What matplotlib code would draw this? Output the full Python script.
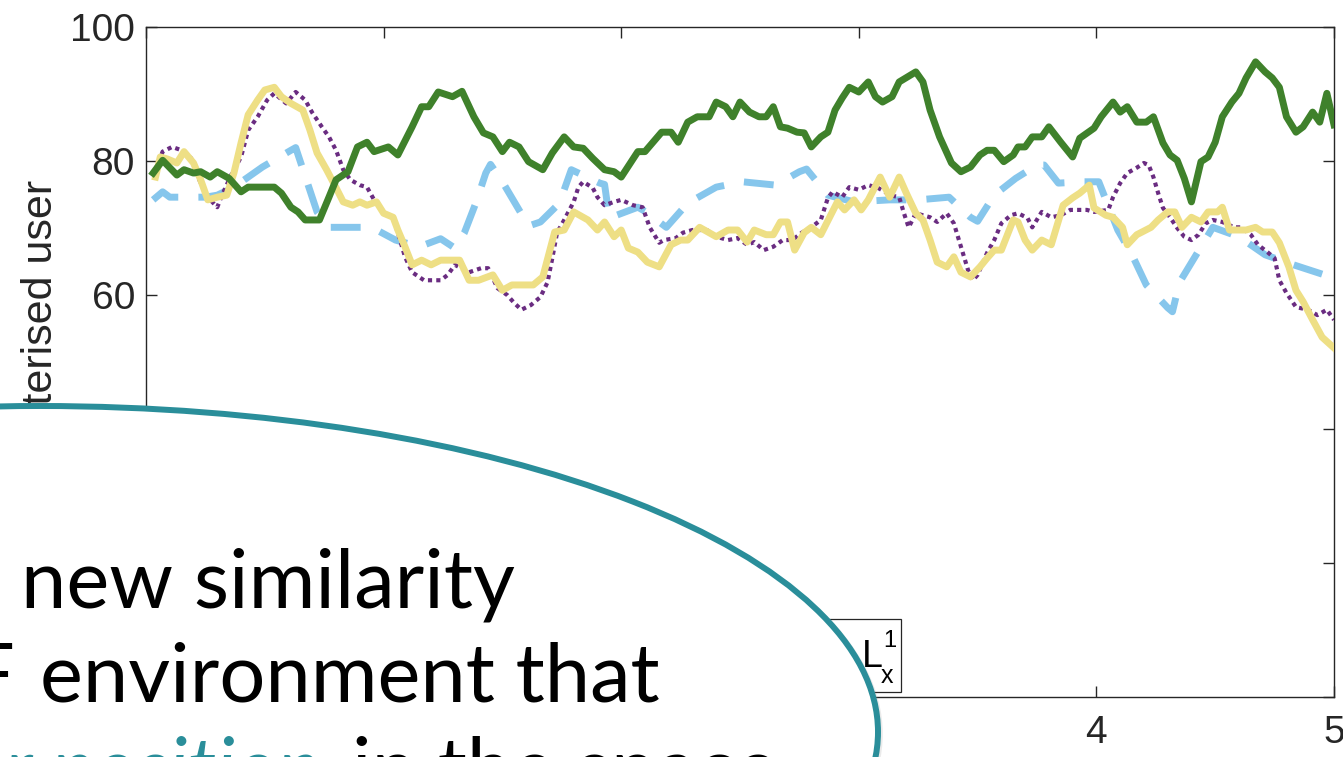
import matplotlib
matplotlib.use("Agg")
import matplotlib.pyplot as plt
from matplotlib.patches import Ellipse, Rectangle

plt.rcParams['font.family'] = ['Liberation Sans', 'DejaVu Sans']

# ---------------- data ----------------
x_ticks = [0, 1, 2, 3, 4, 5]
y_ticks = [0, 20, 40, 60, 80, 100]

green_x = [0.03, 0.07, 0.13, 0.16, 0.20, 0.23, 0.27, 0.30, 0.35, 0.40,
           0.43, 0.54, 0.57, 0.61, 0.64, 0.67, 0.73, 0.77, 0.80, 0.85,
           0.89, 0.93, 0.96, 1.02, 1.06, 1.12, 1.16, 1.19, 1.23, 1.29,
           1.33, 1.38, 1.42, 1.46, 1.50, 1.53, 1.57, 1.61, 1.67, 1.71,
           1.76, 1.80, 1.84, 1.88, 1.93, 1.97, 2.00, 2.07, 2.10, 2.17,
           2.21, 2.24, 2.28, 2.32, 2.37, 2.40, 2.44, 2.47, 2.50, 2.54,
           2.58, 2.61, 2.64, 2.67, 2.70, 2.74, 2.77, 2.80, 2.84, 2.87,
           2.90, 2.93, 2.96, 3.00, 3.04, 3.07, 3.10, 3.14, 3.17, 3.24,
           3.27, 3.30, 3.34, 3.39, 3.43, 3.47, 3.51, 3.54, 3.57, 3.61,
           3.65, 3.67, 3.70, 3.73, 3.77, 3.80, 3.85, 3.90, 3.93, 3.99,
           4.02, 4.07, 4.10, 4.13, 4.17, 4.21, 4.24, 4.28, 4.31, 4.34,
           4.37, 4.40, 4.44, 4.47, 4.50, 4.53, 4.57, 4.60, 4.63, 4.67,
           4.71, 4.74, 4.77, 4.80, 4.84, 4.87, 4.91, 4.94, 4.97, 5.00]
green_y = [78.2, 80.1, 77.9, 78.7, 78.2, 78.4, 77.6, 78.4, 77.4, 75.4,
           76.1, 76.1, 75.2, 73.1, 72.4, 71.2, 71.2, 74.6, 77.2, 78.4,
           82.1, 82.8, 81.4, 82.1, 80.9, 85.1, 88.1, 88.1, 90.3, 89.6,
           90.4, 86.6, 84.2, 83.6, 81.4, 82.8, 82.1, 79.9, 78.7, 81.2,
           83.6, 82.1, 81.9, 80.4, 78.7, 78.4, 77.6, 81.4, 81.4, 84.3,
           84.3, 82.8, 85.8, 86.6, 86.6, 88.8, 88.1, 86.6, 88.8, 87.3,
           86.6, 86.6, 88.1, 85.1, 84.9, 84.3, 84.2, 82.1, 83.6, 84.3,
           87.6, 89.4, 91.0, 90.3, 91.8, 89.6, 88.8, 89.6, 91.8, 93.3,
           91.8, 87.6, 83.6, 79.7, 78.4, 79.1, 80.9, 81.6, 81.6, 79.9,
           80.9, 82.1, 82.1, 83.6, 83.6, 85.1, 82.8, 80.6, 83.4, 84.9,
           86.6, 88.8, 87.3, 88.1, 85.8, 85.8, 86.6, 82.7, 80.9, 80.1,
           77.4, 73.9, 79.9, 80.6, 82.8, 86.6, 88.8, 90.1, 92.4, 94.8,
           93.3, 92.4, 91.0, 86.6, 84.3, 85.1, 87.3, 85.8, 90.1, 85.4]

yellow_x = [0.04, 0.06, 0.09, 0.13, 0.16, 0.20, 0.23, 0.26, 0.30, 0.34,
            0.37, 0.40, 0.43, 0.47, 0.50, 0.54, 0.57, 0.61, 0.66, 0.69,
            0.72, 0.76, 0.80, 0.83, 0.87, 0.90, 0.93, 0.97, 1.00, 1.04,
            1.06, 1.09, 1.12, 1.16, 1.20, 1.24, 1.32, 1.36, 1.40, 1.46,
            1.50, 1.54, 1.63, 1.67, 1.72, 1.76, 1.80, 1.86, 1.90, 1.93,
            1.97, 2.00, 2.03, 2.07, 2.11, 2.16, 2.21, 2.25, 2.28, 2.33,
            2.40, 2.45, 2.49, 2.53, 2.56, 2.61, 2.64, 2.67, 2.70, 2.73,
            2.77, 2.80, 2.84, 2.91, 2.94, 2.98, 3.01, 3.04, 3.09, 3.13,
            3.17, 3.20, 3.24, 3.27, 3.30, 3.33, 3.37, 3.40, 3.43, 3.47,
            3.51, 3.54, 3.57, 3.60, 3.65, 3.67, 3.70, 3.73, 3.77, 3.81,
            3.86, 3.90, 3.93, 3.97, 3.99, 4.04, 4.07, 4.11, 4.13, 4.17,
            4.23, 4.26, 4.30, 4.33, 4.36, 4.40, 4.44, 4.47, 4.51, 4.53,
            4.56, 4.60, 4.63, 4.67, 4.70, 4.74, 4.77, 4.81, 4.84, 4.87,
            4.91, 4.95, 5.00]
yellow_y = [77.6, 80.6, 80.3, 79.7, 81.4, 79.7, 77.2, 74.2, 74.6, 74.9,
            78.2, 82.7, 86.9, 89.1, 90.6, 91.0, 89.6, 88.6, 87.6, 84.6,
            81.2, 78.7, 76.0, 73.9, 73.4, 73.9, 73.4, 73.9, 72.2, 71.6,
            69.7, 67.2, 64.5, 65.2, 64.5, 65.2, 65.2, 62.2, 62.2, 63.0,
            60.7, 61.5, 61.5, 62.7, 69.4, 69.7, 72.4, 71.2, 69.7, 70.9,
            68.7, 69.7, 67.0, 66.4, 64.9, 64.2, 67.5, 68.2, 68.2, 70.1,
            68.7, 69.7, 69.7, 67.9, 69.7, 69.0, 69.0, 70.9, 70.9, 66.7,
            69.3, 70.1, 69.0, 73.9, 72.7, 74.2, 72.7, 74.2, 77.6, 74.6,
            77.6, 75.2, 72.2, 71.2, 68.2, 64.9, 64.2, 65.7, 63.4, 62.7,
            64.2, 65.5, 66.7, 66.7, 71.2, 70.9, 68.2, 66.7, 68.2, 67.5,
            73.4, 74.5, 75.2, 76.4, 73.0, 71.9, 71.6, 70.1, 67.5, 69.0,
            70.1, 71.2, 72.4, 72.4, 70.1, 71.6, 70.9, 72.4, 72.4, 73.1,
            69.7, 69.7, 69.7, 70.1, 69.4, 69.4, 67.8, 64.2, 60.7, 59.0,
            56.3, 53.7, 52.1]

purple_x = [0.04, 0.07, 0.11, 0.15, 0.19, 0.22, 0.26, 0.30, 0.32, 0.36,
            0.40, 0.43, 0.47, 0.51, 0.54, 0.59, 0.63, 0.67, 0.70, 0.74,
            0.77, 0.80, 0.83, 0.86, 0.90, 0.93, 0.96, 1.00, 1.04, 1.06,
            1.09, 1.12, 1.17, 1.24, 1.27, 1.30, 1.36, 1.41, 1.44, 1.48,
            1.52, 1.55, 1.58, 1.62, 1.66, 1.69, 1.71, 1.73, 1.76, 1.80,
            1.82, 1.84, 1.88, 1.90, 1.93, 1.97, 2.00, 2.05, 2.09, 2.12,
            2.16, 2.18, 2.23, 2.26, 2.30, 2.36, 2.40, 2.45, 2.49, 2.53,
            2.56, 2.60, 2.64, 2.68, 2.72, 2.76, 2.80, 2.84, 2.87, 2.89,
            2.93, 2.96, 3.00, 3.04, 3.08, 3.11, 3.13, 3.17, 3.19, 3.21,
            3.24, 3.27, 3.30, 3.33, 3.37, 3.40, 3.43, 3.46, 3.48, 3.50,
            3.54, 3.57, 3.60, 3.64, 3.67, 3.71, 3.73, 3.77, 3.81, 3.85,
            3.89, 3.96, 3.99, 4.05, 4.07, 4.10, 4.13, 4.17, 4.20, 4.22,
            4.24, 4.26, 4.28, 4.31, 4.34, 4.37, 4.40, 4.43, 4.46, 4.49,
            4.53, 4.58, 4.61, 4.65, 4.68, 4.72, 4.75, 4.77, 4.80, 4.84,
            4.89, 4.93, 4.97, 5.00]
purple_y = [78.7, 81.4, 82.1, 81.6, 80.4, 77.5, 74.6, 73.1, 74.9, 78.0,
            80.6, 84.6, 86.6, 89.1, 90.1, 88.6, 90.3, 89.1, 87.2, 85.1,
            83.6, 81.6, 78.7, 77.2, 76.4, 76.1, 74.2, 72.2, 71.5, 69.3,
            65.7, 63.4, 62.2, 62.2, 63.0, 64.5, 63.4, 64.0, 64.0, 61.0,
            60.0, 58.8, 57.8, 58.5, 59.7, 61.9, 65.5, 69.3, 71.2, 73.9,
            76.1, 76.9, 76.0, 74.6, 73.4, 73.9, 74.2, 73.4, 73.1, 70.1,
            67.8, 68.2, 68.5, 69.3, 69.7, 69.7, 68.7, 68.2, 68.5, 67.5,
            67.9, 66.7, 67.2, 68.2, 68.2, 69.3, 70.1, 71.2, 74.5, 75.4,
            74.6, 76.1, 75.7, 76.4, 76.0, 75.4, 74.9, 74.6, 72.2, 70.1,
            72.2, 71.9, 71.6, 70.9, 72.2, 70.7, 67.2, 63.7, 62.2, 63.0,
            66.3, 68.2, 70.7, 71.9, 72.2, 71.5, 70.1, 72.4, 71.6, 71.9,
            72.7, 72.7, 72.4, 72.7, 74.6, 76.7, 78.2, 79.0, 79.7, 79.4,
            77.6, 75.2, 73.0, 71.6, 70.0, 68.7, 68.2, 69.0, 70.7, 71.2,
            70.9, 70.1, 70.1, 69.0, 67.5, 66.4, 65.5, 62.2, 60.3, 58.2,
            57.8, 57.0, 57.8, 56.3]

blue_x = [0.03, 0.07, 0.10, 0.16, 0.25, 0.30, 0.37, 0.49, 0.61, 0.63,
          0.72, 0.77, 0.95, 1.05, 1.15, 1.24, 1.30, 1.34, 1.39, 1.43,
          1.45, 1.50, 1.57, 1.61, 1.66, 1.74, 1.79, 1.91, 1.93, 1.95,
          2.07, 2.10, 2.19, 2.28, 2.40, 2.51, 2.65, 2.75, 2.78, 2.87,
          2.98, 3.13, 3.25, 3.38, 3.47, 3.50, 3.57, 3.66, 3.75, 3.78,
          3.84, 3.95, 4.01, 4.04, 4.09, 4.15, 4.21, 4.30, 4.32, 4.35,
          4.42, 4.49, 4.60, 4.71, 4.83, 4.96, 5.00]
blue_y = [74.2, 75.4, 74.6, 74.6, 74.6, 74.9, 76.1, 79.1, 81.6, 82.0,
          72.4, 70.1, 70.1, 68.2, 67.2, 68.4, 67.0, 69.3, 73.9, 78.2,
          79.5, 76.9, 72.7, 70.3, 70.9, 73.7, 78.7, 76.7, 76.5, 71.5,
          73.1, 72.5, 70.1, 73.7, 76.1, 76.9, 76.4, 78.4, 78.8, 74.9,
          73.9, 74.2, 74.2, 74.6, 71.6, 71.0, 74.9, 77.4, 79.4, 79.4,
          76.7, 76.9, 76.9, 74.2, 69.7, 66.0, 61.5, 58.1, 57.5, 61.9,
          66.0, 70.1, 68.7, 66.0, 64.5, 63.0, 63.0]

y_label = 'Accuracy of characterised user'
legend_base, legend_sub, legend_sup = 'L', 'x', '1'
bubble_line1 = 'new similarity'
bubble_line2_head, bubble_line2 = 'RF', 'environment that'
bubble_highlight = 'user position'
bubble_tail = 'in the space'

GREEN = '#3F812B'
BLUE = '#86C6EC'
PURPLE = '#6A2C81'
YELLOW = '#EEDF85'
TEAL = '#2A8E9A'
INK = '#262626'

W, H = 1343, 757
fig = plt.figure(figsize=(W / 100, H / 100), dpi=100)

# ---------------- main axes ----------------
ax = fig.add_axes([146 / W, 60 / H, 1188 / W, 670 / H])
ax.plot(blue_x, blue_y, color=BLUE, lw=5, dashes=(4.3, 2.9), zorder=2)
ax.plot(purple_x, purple_y, color=PURPLE, lw=3, dashes=(1, 1), zorder=3)
ax.plot(yellow_x, yellow_y, color=YELLOW, lw=5, zorder=4,
        solid_joinstyle='round')
ax.plot(green_x, green_y, color=GREEN, lw=5, zorder=5,
        solid_joinstyle='round')

ax.set_xlim(0, 5)
ax.set_ylim(0, 100)
ax.set_xticks(x_ticks)
ax.set_yticks(y_ticks)
for s in ax.spines.values():
    s.set_color(INK)
    s.set_linewidth(1.0)
ax.tick_params(direction='in', length=8, width=1, top=True, right=True,
               labelsize=28, colors=INK)
ax.tick_params(axis='x', pad=13)
ax.tick_params(axis='y', pad=8)

# ---------------- overlay in pixel coordinates ----------------
ov = fig.add_axes([0, 0, 1, 1])
ov.set_xlim(0, W)
ov.set_ylim(H, 0)
ov.axis('off')

ov.text(52, 180, y_label, rotation=90, rotation_mode='anchor',
        ha='right', va='baseline', fontsize=31, color=INK, zorder=1)

# legend box with its last entry
ov.add_patch(Rectangle((560, 619), 341, 73, facecolor='white',
                       edgecolor=INK, lw=0.9, zorder=1))
ov.text(862, 667, legend_base, ha='left', va='baseline', fontsize=27,
        color='black', zorder=1.5)
ov.text(883, 647, legend_sup, ha='left', va='baseline', fontsize=17,
        color='black', zorder=1.5)
ov.text(881, 683, legend_sub, ha='left', va='baseline', fontsize=18,
        color='black', zorder=1.5)

# speech bubble
ov.add_patch(Ellipse((42, 734), 1676, 652, fill=False, edgecolor='#9a9a9a',
                     lw=4, alpha=0.2, zorder=2))
ov.add_patch(Ellipse((40, 732), 1676, 652, facecolor='white',
                     edgecolor=TEAL, lw=4.3, zorder=3))

bfont = dict(family=['Lato', 'DejaVu Sans'], fontsize=58.5, va='baseline',
             zorder=4)
ov.text(21, 608, bubble_line1, ha='left', color='black', **bfont)
ov.text(15, 702, bubble_line2_head, ha='right', color='black', **bfont)
ov.text(40, 702, bubble_line2, ha='left', color='black', **bfont)
ov.text(320, 796, bubble_highlight, ha='right', color=TEAL, style='italic',
        **bfont)
ov.text(352, 796, bubble_tail, ha='left', color='black', **bfont)

fig.savefig('out.png', dpi=100)
